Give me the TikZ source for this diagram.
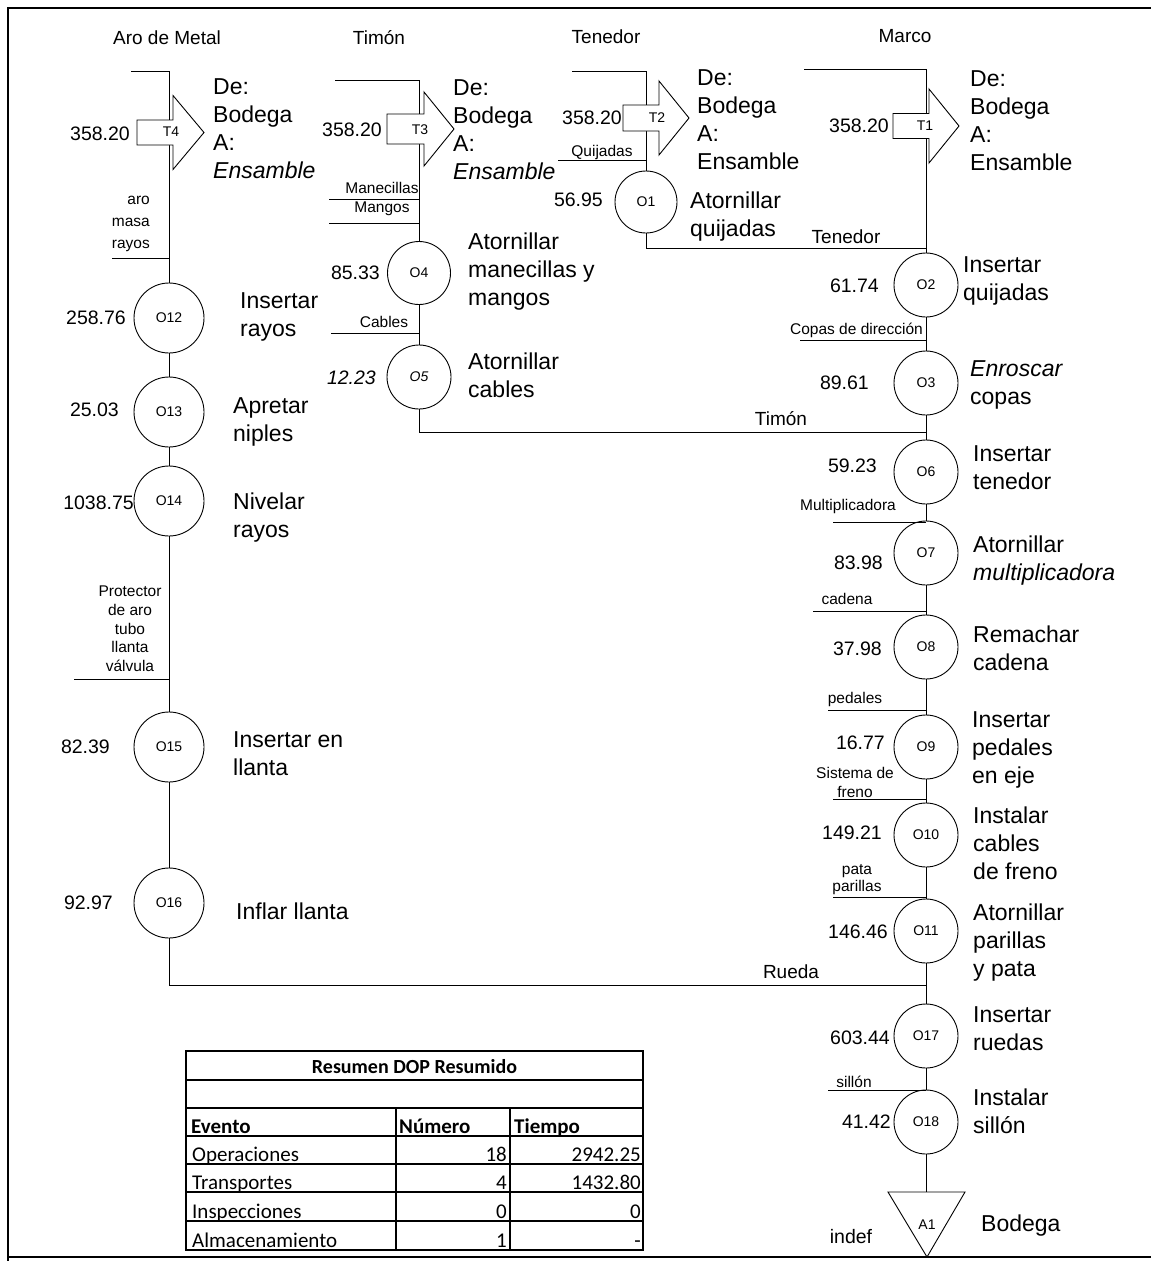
\documentclass[tikz,border=0pt]{standalone}
\usepackage{fontspec}
\setmainfont{Liberation Sans}
\newfontfamily\calib{Carlito}
\newcommand{\transarrow}[6]{%
  \draw[tarrow] (#1,#4-#5) -- (#2,#4-#5) -- (#2,#4-#6) -- (#3,#4) -- (#2,#4+#6) -- (#2,#4+#5) -- (#1,#4+#5) -- cycle;}
\begin{document}
\begin{tikzpicture}[x=1pt,y=-1pt,
  conn/.style={line width=0.9pt},
  opS/.style={circle,draw,line width=0.9pt,minimum size=64pt,inner sep=0pt,font=\fontsize{14}{14}\selectfont},
  opL/.style={opS,minimum size=70pt},
  num/.style={anchor=east,inner sep=0pt,font=\fontsize{19.5}{20}\selectfont},
  desc/.style={anchor=west,align=left,inner sep=0pt,font=\fontsize{23}{28}\selectfont},
  lbl/.style={inner sep=0pt,font=\fontsize{15.5}{19}\selectfont},
  colhead/.style={inner sep=0pt,font=\fontsize{19}{20}\selectfont},
  tarrow/.style={draw,line width=0.9pt,fill=white},
  tlbl/.style={inner sep=0pt,font=\fontsize{14}{14}\selectfont},
  tcell/.style={inner sep=0pt,font=\calib\fontsize{21}{21}\selectfont},
  tcellb/.style={inner sep=0pt,font=\calib\bfseries\fontsize{21}{21}\selectfont},
  tline/.style={line width=1.3pt}
]
\useasboundingbox (0,0) rectangle (1151,1261);
% frame
\draw[line width=2.5pt] (8,1261) -- (8,8) -- (1151,8);
\draw[line width=2.5pt] (8,1257) -- (1151,1257);

% column headers
\node[colhead] (h1) at (167,38) {Aro de Metal};
\node[colhead] (h2) at (379,38) {Timón};
\node[colhead] (h3) at (606,37) {Tenedor};
\node[colhead] (h4) at (905,36) {Marco};

% ---------- Column 1: Aro de Metal ----------
\coordinate (s1) at (131,71);
\coordinate (k1) at (169,71);
\node[num] (nT4) at (130,134) {358.20};
\node[desc] (dT4) at (213,129) {De:\\Bodega\\A:\\\textit{Ensamble}};
\node[lbl,align=right,anchor=east,font=\fontsize{15.5}{22}\selectfont] (inA) at (150,224) {aro\\masa\\rayos};
\coordinate (inAL) at (112,258);

\node[opL] (O12) at (169,318) {O12};
\node[num] (n12) at (126,318) {258.76};
\node[desc] (d12) at (240,317) {Insertar\\rayos};

\node[opL] (O13) at (169,412) {O13};
\node[num] (n13) at (119,410) {25.03};
\node[desc] (d13) at (233,422) {Apretar\\niples};

\node[opL] (O14) at (169,501) {O14};
\node[num] (n14) at (134,503) {1038.75};
\node[desc] (d14) at (233,518) {Nivelar\\rayos};

\node[lbl,align=center,font=\fontsize{15.5}{18.7}\selectfont] (inB) at (130,629) {Protector\\de aro\\tubo\\llanta\\válvula};
\coordinate (inBL) at (74,679);

\node[opL] (O15) at (169,747) {O15};
\node[num] (n15) at (110,747) {82.39};
\node[desc] (d15) at (233,754) {Insertar en\\llanta};

\node[opL] (O16) at (169,903) {O16};
\node[num] (n16) at (113,903) {92.97};
\node[desc] (d16) at (236,911) {Inflar llanta};

\coordinate (rj) at (926,985);
\node[colhead] (rueda) at (791,972) {Rueda};

% ---------- Column 2: Timon ----------
\coordinate (s2) at (335,80);
\coordinate (k2) at (419,80);
\node[num] (nT3) at (382,130) {358.20};
\node[desc] (dT3) at (453,130) {De:\\Bodega\\A:\\\textit{Ensamble}};
\node[lbl] (man) at (382,188) {Manecillas};
\node[lbl] (mang) at (382,209) {Mangos};
\coordinate (manL) at (329,199);
\coordinate (mangL) at (329,223);

\node[opS,minimum size=63pt] (O4) at (419,273) {O4};
\node[num] (n4) at (380,273) {85.33};
\node[desc] (d4) at (468,272) {Atornillar\\manecillas y\\mangos};

\node[lbl] (cab) at (384,322) {Cables};
\coordinate (cabL) at (331,333);

\node[opS] (O5) at (419,377) {\textit{O5}};
\node[num] (n5) at (376,378) {\textit{12.23}};
\node[desc] (d5) at (468,375) {Atornillar\\cables};

\coordinate (tj) at (926,432);
\node[colhead] (timon) at (781,419) {Timón};

% ---------- Column 3: Tenedor ----------
\coordinate (s3) at (572,71);
\coordinate (k3) at (646,71);
\node[num] (nT2) at (622,118) {358.20};
\node[desc] (dT2) at (697,120) {De:\\Bodega\\A:\\Ensamble};
\node[lbl] (quij) at (602,152) {Quijadas};
\coordinate (quijL) at (558,160);

\node[opS,minimum size=62pt] (O1) at (646,202) {O1};
\node[num] (n1) at (603,200) {56.95};
\node[desc] (d1) at (690,217) {Atornillar\\quijadas};

\coordinate (qj) at (926,248);
\node[colhead] (tened) at (846,237) {Tenedor};

% ---------- Column 4: Marco ----------
\coordinate (s4) at (804,69);
\coordinate (k4) at (926,69);
\node[num] (nT1) at (889,126) {358.20};
\node[desc] (dT1) at (970,121) {De:\\Bodega\\A:\\Ensamble};

\node[opS] (O2) at (926,285) {O2};
\node[num] (n2) at (879,286) {61.74};
\node[desc] (d2) at (963,281) {Insertar\\quijadas};

\node[lbl,anchor=east] (copas) at (923,330) {Copas de dirección};
\coordinate (copasL) at (800,340);

\node[opS] (O3) at (926,383) {O3};
\node[num] (n3) at (869,383) {89.61};
\node[desc] (d3) at (970,385) {\textit{Enroscar}\\copas};

\node[opS] (O6) at (926,472) {O6};
\node[num] (n6) at (877,466) {59.23};
\node[desc] (d6) at (973,468) {Insertar\\tenedor};

\node[lbl,anchor=east] (multi) at (896,506) {Multiplicadora};
\coordinate (multiL) at (833,522);

\node[opS] (O7) at (926,553) {O7};
\node[num] (n7) at (883,563) {83.98};
\node[desc] (d7) at (973,561) {Atornillar\\\textit{multiplicadora}};

\node[lbl] (cad) at (847,599) {cadena};
\coordinate (cadL) at (813,611);

\node[opS] (O8) at (926,647) {O8};
\node[num] (n8) at (882,649) {37.98};
\node[desc] (d8) at (973,648) {Remachar\\cadena};

\node[lbl] (ped) at (855,699) {pedales};
\coordinate (pedL) at (828,710);

\node[opS] (O9) at (926,747) {O9};
\node[num] (n9) at (885,743) {16.77};
\node[desc] (d9) at (972,750) {Insertar\\pedales\\en eje};

\node[lbl,align=center] (sist) at (855,782) {Sistema de\\freno};
\coordinate (sistL) at (833,799);

\node[opS] (O10) at (926,835) {O10};
\node[num] (n10) at (882,833) {149.21};
\node[desc] (d10) at (973,843) {Instalar\\cables\\de freno};

\node[lbl,align=center,font=\fontsize{15.5}{17}\selectfont] (pata) at (857,880) {pata\\parillas};
\coordinate (pataL) at (833,897);

\node[opS] (O11) at (926,931) {O11};
\node[num] (n11) at (888,932) {146.46};
\node[desc] (d11) at (973,943) {Atornillar\\parillas\\y pata};

\node[opS] (O17) at (926,1036) {O17};
\node[num] (n17) at (890,1038) {603.44};
\node[desc] (d17) at (973,1029) {Insertar\\ruedas};

\node[lbl] (sil) at (854,1082) {sillón};
\coordinate (silL) at (828,1090);

\node[opS] (O18) at (926,1122) {O18};
\node[num] (n18) at (891,1122) {41.42};
\node[desc] (d18) at (973,1111) {Instalar\\sillón};

\coordinate (a1top) at (926,1192);
\node[num,font=\fontsize{19.5}{20}\selectfont,anchor=center] (indef) at (851,1237) {indef};
\node[desc] (dA1) at (981,1226) {Bodega};

% ---------- connectors ----------
\draw[conn] (s1) -- (k1) -- (O12);
\draw[conn] (inAL) -- (inAL -| k1);
\draw[conn] (O12) -- (O13);
\draw[conn] (O13) -- (O14);
\draw[conn] (O14) -- (O15);
\draw[conn] (inBL) -- (inBL -| k1);
\draw[conn] (O15) -- (O16);
\draw[conn] (O16.south) |- (rj);

\draw[conn] (s2) -- (k2) -- (O4);
\draw[conn] (manL) -- (manL -| k2);
\draw[conn] (mangL) -- (mangL -| k2);
\draw[conn] (O4) -- (O5);
\draw[conn] (cabL) -- (cabL -| k2);
\draw[conn] (O5.south) |- (tj);

\draw[conn] (s3) -- (k3) -- (O1);
\draw[conn] (quijL) -- (quijL -| k3);
\draw[conn] (O1.south) |- (qj);

\draw[conn] (s4) -- (k4) -- (O2);
\draw[conn] (O2) -- (O3);
\draw[conn] (copasL) -- (copasL -| k4);
\draw[conn] (O3) -- (O6);
\draw[conn] (O6) -- (O7);
\draw[conn] (multiL) -- (multiL -| k4);
\draw[conn] (O7) -- (O8);
\draw[conn] (cadL) -- (cadL -| k4);
\draw[conn] (O8) -- (O9);
\draw[conn] (pedL) -- (pedL -| k4);
\draw[conn] (O9) -- (O10);
\draw[conn] (sistL) -- (sistL -| k4);
\draw[conn] (O10) -- (O11);
\draw[conn] (pataL) -- (pataL -| k4);
\draw[conn] (O11) -- (O17);
\draw[conn] (O17) -- (O18);
\draw[conn] (silL) -- (silL -| k4);
\draw[conn] (O18) -- (a1top);

% storage triangle
\draw[line width=0.9pt] (888,1192) -- (965,1192) -- (927,1257) -- cycle;
\node[tlbl] (A1) at (927,1225) {A1};

% transport arrows
\transarrow{137}{173}{204}{132.5}{12.5}{37}
\transarrow{387}{424}{454}{129}{15}{37}
\transarrow{623}{659}{689}{118}{13}{37}
\transarrow{893}{929}{959}{126}{12.5}{37}
\node[tlbl] (T4) at (171,132) {T4};
\node[tlbl] (T3) at (420,130) {T3};
\node[tlbl] (T2) at (657,118) {T2};
\node[tlbl] (T1) at (925,126) {T1};

% ---------- summary table ----------
\draw[tline] (186,1051) rectangle (643,1250);
\foreach \yy in {1080,1108,1136,1164,1192,1221} \draw[tline] (186,\yy) -- (643,\yy);
\draw[tline] (396,1108) -- (396,1250);
\draw[tline] (510,1108) -- (510,1250);
\node[tcellb,font=\calib\bfseries\fontsize{20}{20}\selectfont,anchor=base] (ttl) at (414.5,1073) {Resumen DOP Resumido};
\node[tcellb,anchor=base west] (hE) at (191,1133) {Evento};
\node[tcellb,anchor=base west] (hN) at (399,1133) {Número};
\node[tcellb,anchor=base west] (hT) at (514,1133) {Tiempo};
\node[tcell,anchor=base west] (r1) at (192,1161) {Operaciones};
\node[tcell,anchor=base west] (r2) at (192,1189) {Transportes};
\node[tcell,anchor=base west] (r3) at (192,1218) {Inspecciones};
\node[tcell,anchor=base west] (r4) at (192,1247) {Almacenamiento};
\node[tcell,anchor=base east] (r1n) at (507,1161) {18};
\node[tcell,anchor=base east] (r2n) at (507,1189) {4};
\node[tcell,anchor=base east] (r3n) at (507,1218) {0};
\node[tcell,anchor=base east] (r4n) at (507,1247) {1};
\node[tcell,anchor=base east] (r1t) at (641,1161) {2942.25};
\node[tcell,anchor=base east] (r2t) at (641,1189) {1432.80};
\node[tcell,anchor=base east] (r3t) at (641,1218) {0};
\node[tcell,anchor=base east] (r4t) at (641,1247) {-};
\end{tikzpicture}
\end{document}
